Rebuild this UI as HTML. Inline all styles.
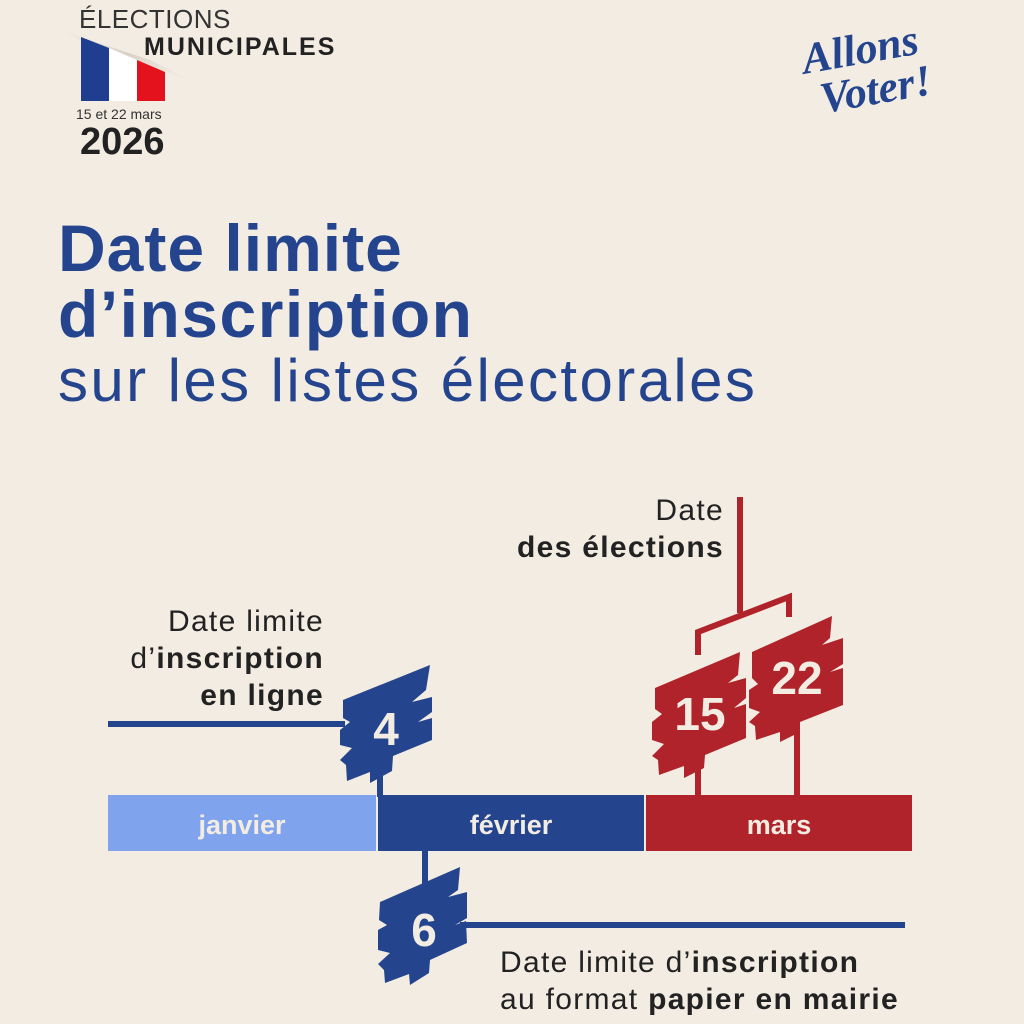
<!DOCTYPE html>
<html><head><meta charset="utf-8"><style>
html,body{margin:0;padding:0}
body{width:1024px;height:1024px;background:#f3ece3;position:relative;overflow:hidden;font-family:"Liberation Sans","DejaVu Sans",sans-serif}
.t{position:absolute;white-space:nowrap}
</style></head><body>
<svg width="1024" height="1024" style="position:absolute;left:0;top:0">
<defs>
<linearGradient id="sh" x1="0" y1="0" x2="1" y2="1"><stop offset="0" stop-color="#ddd3c8" stop-opacity="0"/><stop offset="0.5" stop-color="#cfc5ba"/><stop offset="1" stop-color="#ddd3c8" stop-opacity="0"/></linearGradient>
</defs>
<polygon points="60,30 150,60 190,80 100,50" fill="url(#sh)" opacity="0.7"/>
<polygon points="81,37 109,48 109,101 81,101" fill="#1f3e8f"/>
<polygon points="109,48 137,60 137,101 109,101" fill="#ffffff"/>
<polygon points="137,60 165,72 165,101 137,101" fill="#e4121c"/>
<rect x="108" y="795" width="268" height="56" fill="#7fa3ed"/>
<rect x="378" y="795" width="266" height="56" fill="#24458e"/>
<rect x="646" y="795" width="266" height="56" fill="#b0232a"/>
<g stroke="#24458e" stroke-width="6" fill="none">
<line x1="108" y1="724" x2="345" y2="724"/>
<line x1="380" y1="760" x2="380" y2="797"/>
<line x1="425" y1="849" x2="425" y2="885"/>
<line x1="460" y1="925" x2="905" y2="925"/>
</g>
<g stroke="#b0232a" stroke-width="6" fill="none">
<line x1="740" y1="497" x2="740" y2="613"/>
<polyline points="698,655 698,632 789,597 789,617"/>
<line x1="698" y1="755" x2="698" y2="797"/>
<line x1="797" y1="725" x2="797" y2="797"/>
</g>
<polygon fill="#24458e" points="343,700 430,665 426,690 412,702 432,697 432,712 418,722 432,718 432,740 393,756 392,771 370,783 370,772 347,781 346,765 340,760 352,748 340,745 340,730 350,722 343,718"/>
<polygon fill="#24458e" points="380,902 460,867 458,890 448,897 467,892 467,918 455,925 466,921 467,943 430,960 429,973 410,985 409,974 385,983 384,970 378,964 390,953 378,950 378,930 387,925 379,920"/>
<polygon fill="#b0232a" points="655,688 740,652 738,675 728,683 746,678 746,698 734,708 746,704 746,738 705,755 704,768 684,778 684,766 659,775 658,760 652,756 664,744 652,740 652,722 662,714 655,709"/>
<polygon fill="#b0232a" points="752,652 832,616 830,638 822,645 843,638 843,664 830,672 843,668 843,705 800,722 800,732 780,742 780,732 756,740 755,726 749,722 760,712 749,708 749,690 758,684 752,678"/>
<g font-family="Liberation Sans, sans-serif" font-weight="bold" fill="#f3ece3" text-anchor="middle">
<text x="386" y="745" font-size="46">4</text>
<text x="424" y="946" font-size="46">6</text>
<text x="700" y="730" font-size="46">15</text>
<text x="797" y="694" font-size="46">22</text>
<text x="242" y="834" font-size="27">janvier</text>
<text x="511" y="834" font-size="27">février</text>
<text x="779" y="834" font-size="27">mars</text>
</g>
</svg>
<div class="t" style="left:79px;top:4px;font-size:26px;color:#333;letter-spacing:0.5px">ÉLECTIONS</div>
<div class="t" style="left:144px;top:33px;font-size:25px;font-weight:bold;color:#222;letter-spacing:2px">MUNICIPALES</div>
<div class="t" style="left:76px;top:106px;font-size:14px;color:#333">15 et 22 mars</div>
<div class="t" style="left:80px;top:121px;font-size:38px;font-weight:bold;color:#222">2026</div>
<div class="t" style="left:805px;top:28px;font-size:44px;font-style:italic;font-weight:bold;color:#24458e;transform:rotate(-10deg);line-height:42px;font-family:'Liberation Serif',serif">Allons<br>&nbsp;Voter!</div>
<div class="t" style="left:58px;top:215px;font-size:66px;font-weight:bold;color:#24458e;letter-spacing:1px;line-height:66px">Date limite<br><span style="letter-spacing:1.5px">d’inscription</span></div>
<div class="t" style="left:58px;top:346px;font-size:60px;color:#24458e;letter-spacing:2.4px">sur les listes électorales</div>
<div class="t" style="right:300px;top:492px;font-size:30px;color:#222;text-align:right;line-height:37px;letter-spacing:1.3px">Date<br><b>des élections</b></div>
<div class="t" style="right:700px;top:603px;font-size:30px;color:#222;text-align:right;line-height:37px;letter-spacing:1.3px">Date limite<br>d’<b>inscription</b><br><b>en ligne</b></div>
<div class="t" style="left:500px;top:944px;font-size:30px;color:#222;line-height:37px;letter-spacing:1.3px">Date limite d’<b>inscription</b><br>au format <b>papier en mairie</b></div>
</body></html>
